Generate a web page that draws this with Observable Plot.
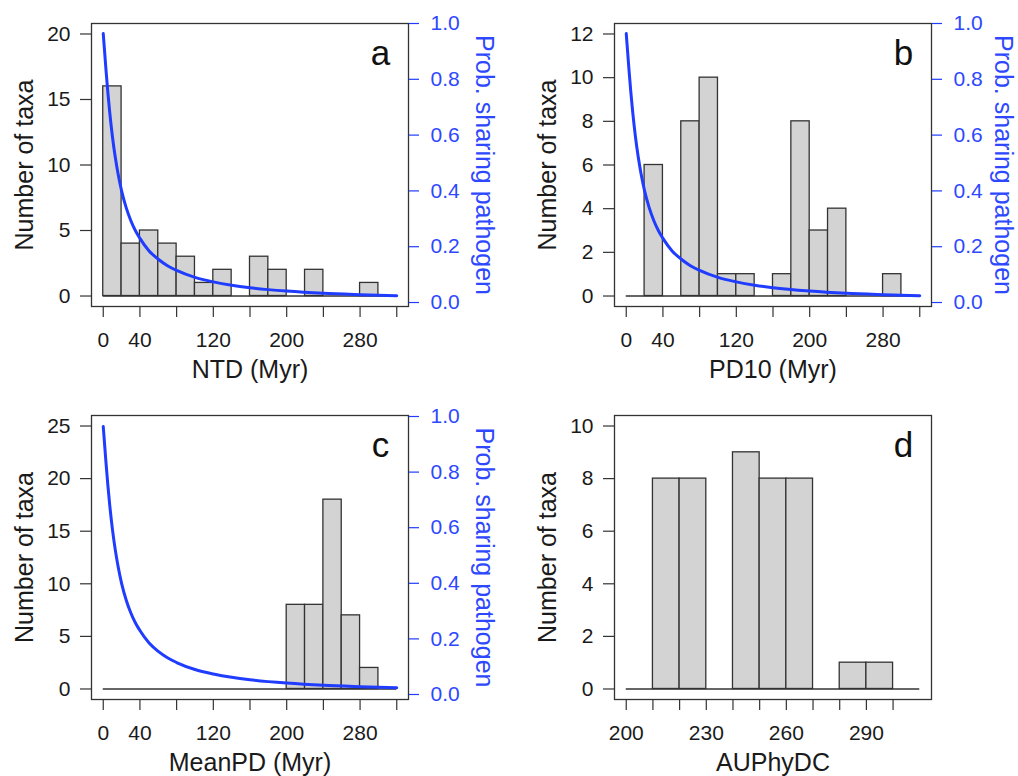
<!DOCTYPE html>
<html>
<head>
<meta charset="utf-8">
<script src="https://cdn.jsdelivr.net/npm/d3@7"></script>
<script src="https://cdn.jsdelivr.net/npm/@observablehq/plot@0.6"></script>
<style>
  body { margin: 0; background: #fff; }
  #chart { position: relative; width: 1018px; height: 776px; font-family: "Liberation Sans", Arial, sans-serif; }
  .panel { position: absolute; width: 509px; height: 388px; }
  .panel svg { position: absolute; left: 0; top: 0; max-width: none !important; }
</style>
</head>
<body>
<div id="chart"></div>
<script>
// ---------- data ----------
const distBinStarts = [0, 20, 40, 60, 80, 100, 120, 140, 160, 180, 200, 220, 240, 260, 280];
const ntdCounts  = [16, 4, 5, 4, 3, 1, 2, 0, 3, 2, 0, 2, 0, 0, 1];
const pd10Counts = [0, 6, 0, 8, 10, 1, 1, 0, 1, 8, 3, 4, 0, 0, 1];
const meanPDBinStarts = [200, 220, 240, 260, 280];
const meanPDCounts    = [8, 8, 18, 7, 2];
const auphydcBinStarts = [210, 220, 230, 240, 250, 260, 270, 280, 290];
const auphydcCounts    = [8, 8, 0, 9, 8, 8, 0, 1, 1];

// probability of sharing a pathogen vs. phylogenetic distance
const curveDist = [0, 1, 2, 3, 5, 7, 10, 13, 16, 20, 25, 30, 35, 40, 50, 60, 70, 80, 100, 120, 140, 160, 200, 240, 280, 320];
const curveProb = [0.964, 0.921, 0.877, 0.834, 0.754, 0.684, 0.595, 0.523, 0.464, 0.40, 0.34, 0.294, 0.258, 0.23, 0.185, 0.155, 0.132, 0.115, 0.09, 0.074, 0.062, 0.053, 0.041, 0.033, 0.028, 0.024];

// axis ticks and labels
const distTicks  = [0, 40, 80, 120, 160, 200, 240, 280, 320];
const distLabels = [0, 40, 120, 200, 280];
const auTicks  = [200, 210, 220, 230, 240, 250, 260, 270, 280, 290, 300];
const auLabels = [200, 230, 260, 290];
const yTicksA = [0, 5, 10, 15, 20];
const yTicksB = [0, 2, 4, 6, 8, 10, 12];
const yTicksC = [0, 5, 10, 15, 20, 25];
const yTicksD = [0, 2, 4, 6, 8, 10];
const probTicks = [0, 0.2, 0.4, 0.6, 0.8, 1.0];

const xTitles = ["NTD (Myr)", "PD10 (Myr)", "MeanPD (Myr)", "AUPhyDC"];
const panelLetters = ["a", "b", "c", "d"];
const yTitle = "Number of taxa";
const probTitle = "Prob. sharing pathogen";

// ---------- styling / layout ----------
const FONT = "'Liberation Sans', Arial, Helvetica, sans-serif";
const BLUE = "#1f3cff";
const BLUE_TEXT = "#2d48ff";
const INK = "#1a1a1a";
const EDGE = "#333";

const curve = curveDist.map((d, i) => ({d, p: curveProb[i]}));

const panels = [
  {left: 0,   top: 0,   mL: 91,  mR: 101, mT: 23, mB: 82, xDomain: [-12.8, 332.8], yDomain: [-0.8, 20.8],
   yTicks: yTicksA, xTicks: distTicks, xLabels: distLabels, starts: distBinStarts, bw: 20, counts: ntdCounts,
   base: [0, 320], prob: [-0.0143, 1.0], probDx: 75},
  {left: 509, top: 0,   mL: 105, mR: 87,  mT: 23, mB: 82, xDomain: [-12.8, 332.8], yDomain: [-0.48, 12.48],
   yTicks: yTicksB, xTicks: distTicks, xLabels: distLabels, starts: distBinStarts, bw: 20, counts: pd10Counts,
   base: [0, 320], prob: [-0.0143, 1.0], probDx: 71},
  {left: 0,   top: 388, mL: 91,  mR: 101, mT: 27, mB: 77, xDomain: [-12.8, 332.8], yDomain: [-1, 26],
   yTicks: yTicksC, xTicks: distTicks, xLabels: distLabels, starts: meanPDBinStarts, bw: 20, counts: meanPDCounts,
   base: [0, 320], prob: [-0.018, 1.0036], probDx: 75},
  {left: 509, top: 388, mL: 105, mR: 87,  mT: 27, mB: 77, xDomain: [195.6, 314.4], yDomain: [-0.4, 10.4],
   yTicks: yTicksD, xTicks: auTicks, xLabels: auLabels, starts: auphydcBinStarts, bw: 10, counts: auphydcCounts,
   base: [200, 310], prob: null}
];

const chart = document.getElementById("chart");

panels.forEach((P, k) => {
  const div = document.createElement("div");
  div.className = "panel";
  div.style.left = P.left + "px";
  div.style.top = P.top + "px";
  chart.appendChild(div);

  const bars = P.starts.map((x0, i) => ({x0, x1: x0 + P.bw, n: P.counts[i]}));

  const common = {
    width: 509, height: 388,
    marginLeft: P.mL, marginRight: P.mR, marginTop: P.mT, marginBottom: P.mB,
  };

  const base = Plot.plot({
    ...common,
    style: {fontFamily: FONT, fontSize: "21px", background: "transparent", color: INK},
    x: {domain: P.xDomain, axis: null},
    y: {domain: P.yDomain, axis: null},
    marks: [
      Plot.ruleY([0], {x1: P.base[0], x2: P.base[1], stroke: EDGE, strokeWidth: 1.3}),
      Plot.rectY(bars, {x1: "x0", x2: "x1", y: "n", fill: "#d3d3d3", stroke: EDGE, strokeWidth: 1.3}),
      Plot.frame({stroke: EDGE, strokeWidth: 1.3}),
      Plot.axisY({anchor: "left", ticks: P.yTicks, tickSize: 11, tickPadding: 10, fontSize: 21,
                  tickFormat: d => String(d), label: null, stroke: EDGE, strokeWidth: 1.2, fill: INK}),
      Plot.axisX({anchor: "bottom", ticks: P.xTicks, tickSize: 11, tickPadding: 15, fontSize: 21,
                  tickFormat: d => P.xLabels.includes(d) ? String(d) : "", label: null,
                  stroke: EDGE, strokeWidth: 1.2, fill: INK}),
      Plot.text([xTitles[k]], {text: d => d, frameAnchor: "bottom", dy: 63, lineAnchor: "middle",
                               textAnchor: "middle", fontSize: 25, fill: INK}),
      Plot.text([yTitle], {text: d => d, frameAnchor: "left", dx: -67, rotate: -90, lineAnchor: "middle",
                           textAnchor: "middle", fontSize: 25, fill: INK}),
      Plot.text([panelLetters[k]], {text: d => d, frameAnchor: "top-right", dx: -28, dy: 30,
                                    lineAnchor: "middle", textAnchor: "middle", fontSize: 35, fill: "#111"})
    ]
  });
  div.appendChild(base);

  if (P.prob) {
    const over = Plot.plot({
      ...common,
      style: {fontFamily: FONT, fontSize: "21px", background: "transparent", color: BLUE_TEXT},
      x: {domain: P.xDomain, axis: null},
      y: {domain: P.prob, axis: null},
      marks: [
        Plot.line(curve, {x: "d", y: "p", stroke: BLUE, strokeWidth: 3, curve: "monotone-x"}),
        Plot.axisY({anchor: "right", ticks: probTicks, tickSize: 10, tickPadding: 12, fontSize: 21,
                    tickFormat: d3.format(".1f"), label: null, stroke: BLUE, strokeWidth: 1.2, fill: BLUE_TEXT}),
        Plot.text([probTitle], {text: d => d, frameAnchor: "right", dx: P.probDx, rotate: 90, lineAnchor: "middle",
                                textAnchor: "middle", fontSize: 25, fill: BLUE_TEXT})
      ]
    });
    div.appendChild(over);
  }
});
</script>
</body>
</html>
